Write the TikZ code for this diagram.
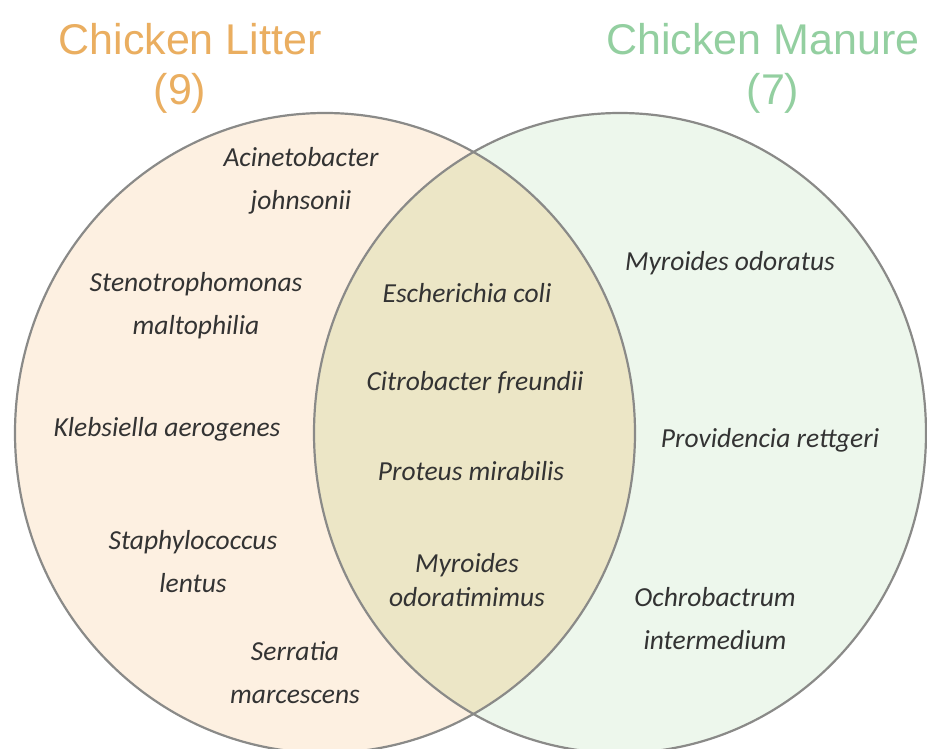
\documentclass[tikz,border=0pt]{standalone}
\usepackage{fontspec}
\setmainfont{Carlito}
\newfontfamily\titlefont{Liberation Sans}
\definecolor{litterfill}{HTML}{FDF0E1}
\definecolor{manurefill}{HTML}{EDF7EC}
\definecolor{bothfill}{HTML}{ECE6C6}
\definecolor{edgegray}{HTML}{8A8A88}
\definecolor{littertext}{HTML}{EAAE60}
\definecolor{manuretext}{HTML}{93CFA0}
\definecolor{labeltext}{HTML}{333333}
\tikzset{
  species/.style={text=labeltext, align=center, inner sep=0pt,
    font=\fontsize{27.5}{43}\selectfont\itshape},
  title/.style={inner sep=0pt, align=center, font=\fontsize{43}{54}\selectfont\titlefont},
  setedge/.style={draw=edgegray, line width=2.2pt}
}
\begin{document}
\begin{tikzpicture}[x=1pt,y=-1pt]
\clip (0,0) rectangle (927,749);
\fill[white] (0,0) rectangle (927,749);
% sets
\fill[litterfill] (325,433) ellipse [x radius=310, y radius=320];
\fill[manurefill] (620,433) ellipse [x radius=306, y radius=320];
\begin{scope}
  \clip (325,433) ellipse [x radius=310, y radius=320];
  \fill[bothfill] (620,433) ellipse [x radius=306, y radius=320];
\end{scope}
\draw[setedge] (325,433) ellipse [x radius=310, y radius=320];
\draw[setedge] (620,433) ellipse [x radius=306, y radius=320];
% titles
\node[title, text=littertext] (tl) at (190,39) {Chicken Litter};
\node[title, text=littertext] (tln) at (180,93) {(9)};
\node[title, text=manuretext] (tm) at (763,39) {Chicken Manure};
\node[title, text=manuretext] (tmn) at (773,93) {(7)};
% litter only
\node[species] (a1) at (301,181) {Acinetobacter\\johnsonii};
\node[species] (a2) at (196,306) {Stenotrophomonas\\maltophilia};
\node[species] (a3) at (167,429) {Klebsiella aerogenes};
\node[species] (a4) at (193,562) {Staphylococcus\\lentus};
\node[species] (a5) at (295,673) {Serratia\\marcescens};
% both
\node[species] (b1) at (467,293) {Escherichia coli};
\node[species] (b2) at (475,383) {Citrobacter freundii};
\node[species] (b3) at (471,471) {Proteus mirabilis};
\node[species, font=\fontsize{27.5}{34}\selectfont\itshape] (b4) at (467,580) {Myroides\\odoratimimus};
% manure only
\node[species] (c1) at (730,263) {Myroides odoratus};
\node[species] (c2) at (770,440) {Providencia rettgeri};
\node[species] (c3) at (715,619) {Ochrobactrum\\intermedium};
\end{tikzpicture}
\end{document}
